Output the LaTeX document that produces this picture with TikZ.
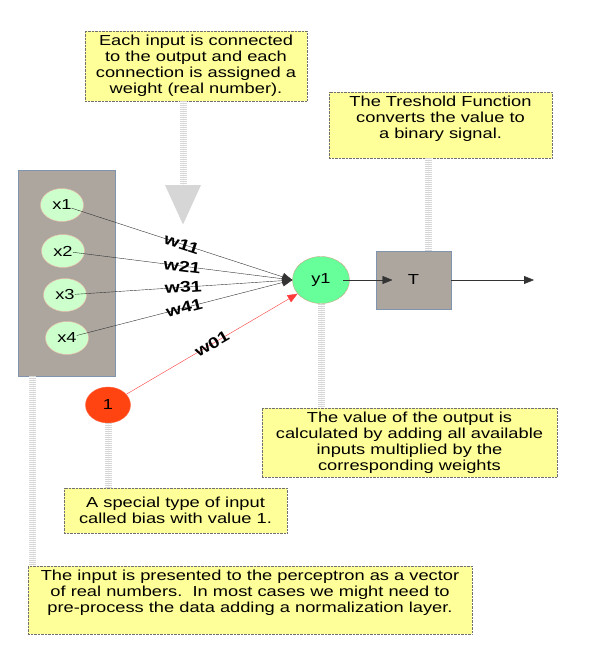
\documentclass[tikz,border=0pt]{standalone}
\usepackage{fontspec}
\setmainfont{Liberation Sans}[FakeStretch=1.26]
\usetikzlibrary{arrows.meta, positioning, shapes.geometric, calc}
\definecolor{notefill}{HTML}{FFFF99}
\definecolor{noteline}{HTML}{707070}
\definecolor{boxfill}{HTML}{ADA69F}
\definecolor{boxline}{HTML}{8094B0}
\definecolor{inputfill}{HTML}{CCFFCC}
\definecolor{inputline}{HTML}{F2B8A8}
\definecolor{outfill}{HTML}{66FF99}
\definecolor{outborder}{HTML}{C8A888}
\definecolor{biasfill}{HTML}{FF4411}
\definecolor{biasborder}{HTML}{FF6644}
\definecolor{biaswire}{HTML}{FF3B3B}
\definecolor{calloutgray}{HTML}{D6D6D6}
\tikzset{
  txt/.style={font=\fontsize{14.5}{16}\selectfont},
  note/.style={txt, draw=noteline, densely dotted, fill=notefill,
               align=center, inner sep=4pt},
  block/.style={draw=boxline, fill=boxfill, txt},
  innode/.style={ellipse, draw=inputline, fill=inputfill, txt,
                 minimum width=43pt, minimum height=33pt, inner sep=0pt},
  wire/.style={draw=black!80, -{Triangle[length=10pt,width=8pt]}},
  wlabel/.style={sloped, font=\fontsize{15.5}{16}\selectfont\bfseries,
                 inner sep=0pt},
  callout/.style={line width=7pt, draw=calloutgray,
                  dash pattern=on 1pt off 1pt,
                  preaction={draw=gray!8, solid}}
}
\begin{document}
\begin{tikzpicture}[x=1pt, y=-1pt]
  \useasboundingbox (0,0) rectangle (614,651);
  % Notes
  \node[note, minimum width=222pt, minimum height=70pt] (note1) at (196,66)
    {Each input is connected\\to the output and each\\connection is assigned a\\weight (real number).};
  \node[note, minimum width=223pt, minimum height=66pt, text depth=15pt] (note2) at (440.5,125)
    {The Treshold Function\\converts the value to\\a binary signal.};
  \node[note, minimum width=295pt, minimum height=69pt] (note3) at (409.5,442.5)
    {The value of the output is\\calculated by adding all available\\inputs multiplied by the\\corresponding weights};
  \node[note, minimum width=223pt, minimum height=45pt] (note4) at (175.5,510.5)
    {A special type of input\\called bias with value 1.};
  \node[note, minimum width=444pt, minimum height=66pt, text depth=17pt] (note5) at (250,600)
    {The input is presented to the perceptron as a vector\\of real numbers.\ \ In most cases we might need to\\pre-process the data adding a normalization layer.};
  % Perceptron
  \node[block, minimum width=97pt, minimum height=206pt] (inputs) at (66.5,273) {};
  \foreach \i/\x/\y in {1/62/205, 2/63/251, 3/65/295, 4/67/338}
    \node[innode] (x\i) at (\x,\y) {x\i};
  \node[ellipse, draw=outborder, fill=outfill, txt, minimum width=57pt,
        minimum height=47pt, inner sep=0pt] (y1) at (321,280) {y1};
  \node[ellipse, draw=biasborder, fill=biasfill, txt, minimum width=45pt,
        minimum height=36pt, inner sep=0pt] (b1) at (108,405) {1};
  \node[block, minimum width=75pt, minimum height=58pt] (Tbox) at (413.5,280) {T};
  \coordinate (out) at (534,280);
  % Weights
  \foreach \i in {1,...,4}
    \draw[wire, shorten <=10pt] (x\i.center) -- node[wlabel, pos=0.52] {w\i1} (y1.west);
  \draw[wire, draw=biaswire, -{Triangle[length=10pt,width=8pt,color=biaswire]}]
    (b1) -- node[wlabel] {w01} (y1);
  \draw[wire, shorten <=22pt, shorten >=21pt] (y1.center) -- (Tbox.center);
  \draw[wire] (Tbox.east) -- (out);
  % Callouts
  \coordinate (wtip) at (183,225);
  \coordinate (tc) at ($(Tbox.north)+(14.5,0)$);
  \coordinate (ic) at ($(inputs.south west)+(15,0)$);
  \draw[callout, -{Triangle[width=34pt,length=40pt]}] (note1.south -| wtip) -- (wtip);
  \draw[callout] (note2.south -| tc) -- (tc);
  \draw[callout] (y1.south) -- (y1.south |- note3.north);
  \draw[callout] (b1.south) -- (b1.south |- note4.north);
  \draw[callout] (ic) -- (ic |- note5.north);
\end{tikzpicture}
\end{document}
